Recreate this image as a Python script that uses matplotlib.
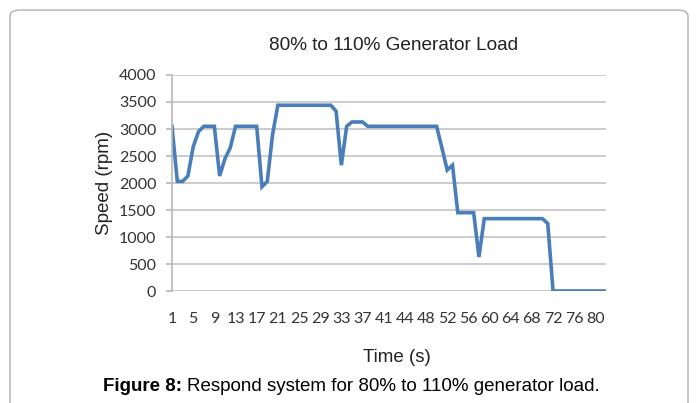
import numpy as np
import matplotlib.pyplot as plt
from matplotlib.patches import FancyBboxPatch

# speed readings, one per category on the Excel-style axis
speed = [3050, 2030, 2030, 2130, 2670, 2950, 3050, 3050, 3050, 2130,
         2450, 2650, 3050, 3050, 3050, 3050, 3050, 1930, 2030, 2900,
         3440, 3440, 3440, 3440, 3440, 3440, 3440, 3440, 3440, 3440,
         3440, 3330, 2330, 3050, 3130, 3130, 3130, 3050, 3050, 3050,
         3050, 3050, 3050, 3050, 3050, 3050, 3050, 3050, 3050, 3050,
         3050, 2650, 2240, 2330, 1450, 1450, 1450, 1450, 630, 1340,
         1340, 1340, 1340, 1340, 1340, 1340, 1340, 1340, 1340, 1340,
         1340, 1250, 0, 0, 0, 0, 0, 0, 0, 0,
         0, 0, 0]
xlabels = ['1', '5', '9', '13', '17', '21', '25', '29', '33', '37', '41',
           '44', '48', '52', '56', '60', '64', '68', '72', '76', '80']
yticks = [0, 500, 1000, 1500, 2000, 2500, 3000, 3500, 4000]

fig = plt.figure(figsize=(6.97, 4.03), dpi=100)

box = FancyBboxPatch((0.0144, -0.2), 0.9727, 1.175,
                     boxstyle="round,pad=0,rounding_size=0.015",
                     transform=fig.transFigure, facecolor='white',
                     edgecolor='#b0b0b0', linewidth=1.0, zorder=-5)
fig.patches.append(box)

ax = fig.add_axes([0.2468, 0.2779, 0.6226, 0.536])
ax.patch.set_alpha(0)
x = np.arange(len(speed))
ax.plot(x, speed, color='#4a7ebb', linewidth=2.6, solid_joinstyle='miter')

ax.set_xlim(0, len(speed) - 1)
ax.set_ylim(0, 4000)
ax.set_yticks(yticks)
ax.set_yticklabels([str(v) for v in yticks], fontfamily='Lato',
                   fontsize=11.5, color='#333333')
ax.set_xticks(x[::4])
ax.set_xticklabels(xlabels, fontfamily='Lato', fontsize=11.5, color='#333333')
ax.grid(axis='y', color='#c4c4c4', linewidth=1.2)
ax.set_axisbelow(True)
for s in ['top', 'right', 'bottom']:
    ax.spines[s].set_visible(False)
ax.spines['left'].set_color('#b8b8b8')
ax.spines['left'].set_linewidth(1.2)
ax.tick_params(axis='y', length=4.3, width=1.2, color='#b8b8b8', pad=7)
ax.tick_params(axis='x', length=0, pad=15)

ax.set_ylabel('Speed (rpm)', fontfamily='Liberation Sans', fontsize=13.5,
              color='#222222', labelpad=4)
fig.text(0.565, 0.888, '80% to 110% Generator Load', ha='center', va='center',
         fontfamily='Liberation Sans', fontsize=13.7, color='#222222')
fig.text(0.569, 0.114, 'Time (s)', ha='center', va='center',
         fontfamily='Liberation Sans', fontsize=13.5, color='#222222')

# caption: bold label followed by plain text
t1 = fig.text(0.148, 0.04, 'Figure 8: ', ha='left', va='center',
              fontfamily='Liberation Sans', fontsize=13.5, fontweight='bold')
fig.canvas.draw()
bb = t1.get_window_extent().transformed(fig.transFigure.inverted())
fig.text(bb.x1, 0.04, 'Respond system for 80% to 110% generator load.',
         ha='left', va='center', fontfamily='Liberation Sans', fontsize=13.5)

fig.savefig('out.png', dpi=100)
